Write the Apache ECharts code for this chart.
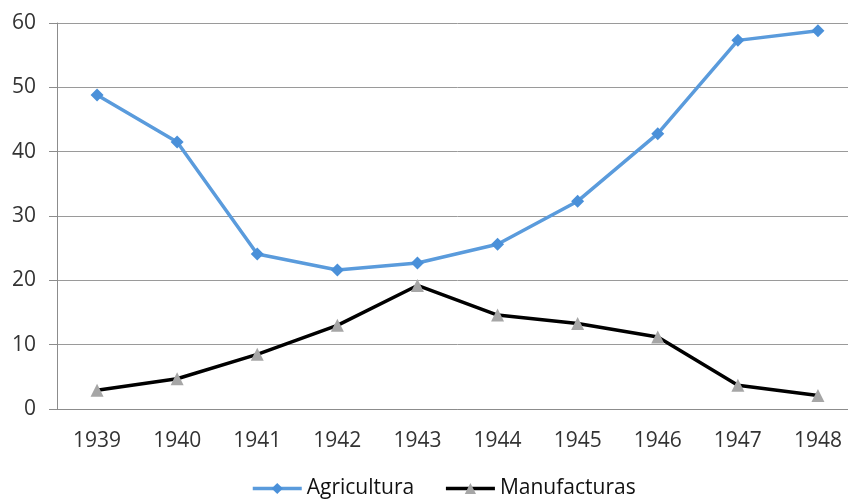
<!DOCTYPE html>
<html>
<head>
<meta charset="utf-8">
<script src="https://cdn.jsdelivr.net/npm/echarts@6/dist/echarts.min.js"></script>
<style>
  html, body { margin: 0; padding: 0; background: #fff; overflow: hidden; }
  #chart { width: 858px; height: 501px; }
</style>
</head>
<body>
<div id="chart"></div>
<script>
// chart data
var years = ["1939", "1940", "1941", "1942", "1943", "1944", "1945", "1946", "1947", "1948"];
var agricultura = [48.8, 41.5, 24.1, 21.6, 22.7, 25.6, 32.3, 42.8, 57.3, 58.8];
var manufacturas = [2.9, 4.7, 8.5, 13.0, 19.2, 14.6, 13.3, 11.2, 3.7, 2.1];

var textColor = "#333";
var font = "Open Sans";

// the plot runs a little past the right edge of the picture, so the div is wider than the window
var chart = echarts.init(document.getElementById("chart"));
var option = {
  animation: false,
  backgroundColor: "#fff",
  textStyle: { fontFamily: font },
  grid: {
    top: 23,
    left: 57,
    right: 0,
    bottom: 92
  },
  legend: {
    top: 473,
    left: 246,
    itemWidth: 49,
    itemHeight: 14,
    itemGap: 30,
    lineStyle: { width: 3.5 },
    textStyle: { fontSize: 21, color: "#111", fontFamily: font },
    data: ["Agricultura", "Manufacturas"]
  },
  xAxis: {
    type: "category",
    data: years,
    axisLine: { lineStyle: { color: "#8c8c8c", width: 1 } },
    axisTick: { length: 7, lineStyle: { color: "#8c8c8c" } },
    axisLabel: { color: textColor, fontSize: 21, margin: 22 }
  },
  yAxis: {
    type: "value",
    min: 0,
    max: 60,
    interval: 10,
    axisLine: { show: true, lineStyle: { color: "#8c8c8c", width: 1 } },
    axisTick: { show: true, length: 8, lineStyle: { color: "#8c8c8c" } },
    splitLine: { lineStyle: { color: "#9a9a9a", width: 1 } },
    axisLabel: { color: textColor, fontSize: 21, margin: 21 }
  },
  series: [
    {
      name: "Agricultura",
      type: "line",
      data: agricultura,
      symbol: "diamond",
      symbolSize: 13,
      itemStyle: { color: "#4a90d9" },
      lineStyle: { color: "#5a9bdc", width: 3.5 }
    },
    {
      name: "Manufacturas",
      type: "line",
      data: manufacturas,
      symbol: "triangle",
      symbolSize: 13,
      itemStyle: { color: "#a6a6a6" },
      lineStyle: { color: "#000", width: 3.5 }
    }
  ]
};
chart.setOption(option);
</script>
</body>
</html>
